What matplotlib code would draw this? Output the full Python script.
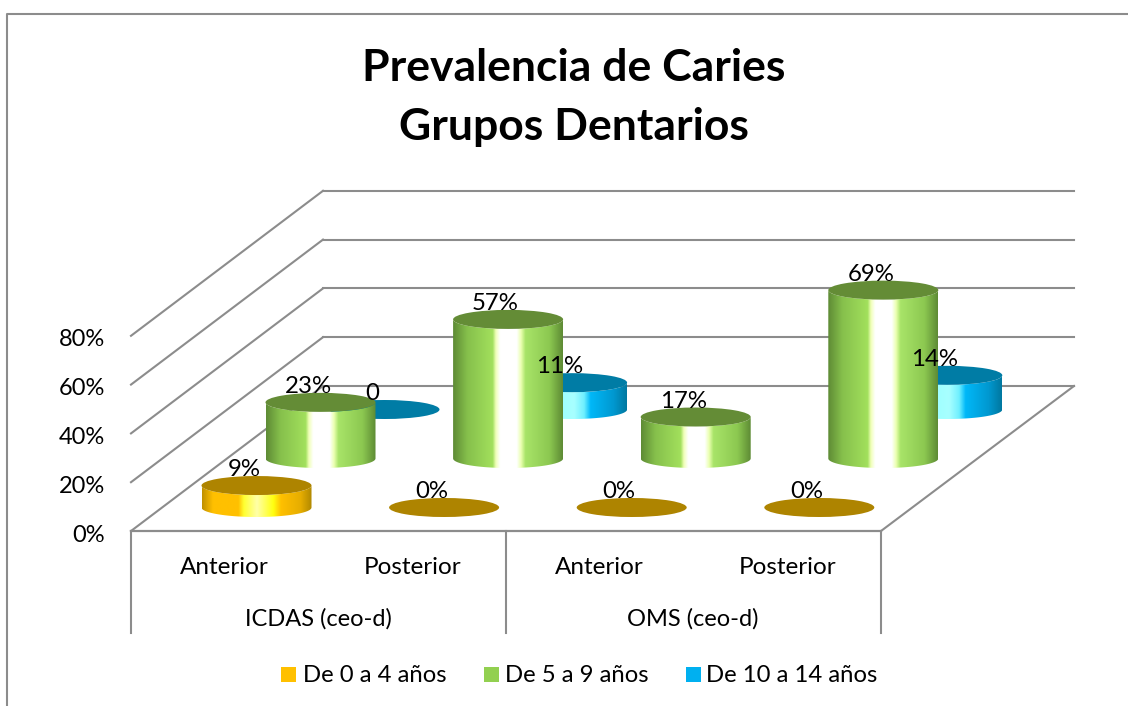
import numpy as np
import matplotlib
matplotlib.use("Agg")
import matplotlib.pyplot as plt
from matplotlib.colors import LinearSegmentedColormap
from matplotlib.patches import Ellipse, PathPatch, Rectangle
from matplotlib.path import Path

plt.rcParams['font.family'] = ['Lato', 'DejaVu Sans']

# Data
title = "Prevalencia de Caries\nGrupos Dentarios"
groups = ["ICDAS (ceo-d)", "OMS (ceo-d)"]
categories = ["Anterior", "Posterior", "Anterior", "Posterior"]
series_names = ["De 0 a 4 años", "De 5 a 9 años", "De 10 a 14 años"]
age_0_4 = [9, 0, 0, 0]
age_5_9 = [23, 57, 17, 69]
age_10_14 = [0, 11, None, 14]
blue_labels = ["0", "11%", None, "14%"]
y_ticks = [0, 20, 40, 60, 80]

# Layout, all in pixels of the picture
PX_PER_PCT = 2.44
FRONT_Y, BACK_Y = 531, 386
LEFT_X, RIGHT_X = 131, 881
DEPTH_X = 192
STEP = 187.6
HALF_W, HALF_H = 55, 9.5
LINE = "#8c8c8c"

green_cm = LinearSegmentedColormap.from_list("g", [
    (0, "#5e8b35"), (0.13, "#86c04c"), (0.36, "#a2e05c"), (0.39, "#f0ffb8"),
    (0.43, "#ffffff"), (0.58, "#ffffff"), (0.62, "#eaffb0"), (0.66, "#a8e468"),
    (0.88, "#8cc850"), (1, "#5e8b35")])
orange_cm = LinearSegmentedColormap.from_list("o", [
    (0, "#c09000"), (0.1, "#ffc000"), (0.33, "#ffc000"), (0.38, "#ffff30"),
    (0.5, "#ffffa8"), (0.65, "#ffff10"), (0.72, "#ffc000"), (0.9, "#e6ad00"),
    (1, "#b08800")])
blue_cm = LinearSegmentedColormap.from_list("b", [
    (0, "#0080a8"), (0.1, "#00b0f0"), (0.3, "#60e8ff"), (0.42, "#a0ffff"),
    (0.52, "#a8ffff"), (0.61, "#70f0ff"), (0.67, "#00b8f8"), (0.88, "#0098d0"),
    (1, "#0078a0")])

# (values, colormap, top colour, first x, floor y)
rows = [
    (age_10_14, blue_cm, "#007ca5", 384.5, 409.5),
    (age_5_9, green_cm, "#648c36", 320.5, 458.5),
    (age_0_4, orange_cm, "#ae8400", 256.5, 507.5),
]
gradient = np.linspace(0, 1, 256).reshape(1, -1)

fig = plt.figure(figsize=(11.28, 7.06), dpi=100)
ax = fig.add_axes([0, 0, 1, 1])
ax.set_axis_off()


def cylinder(xc, floor, value, cmap, top_color):
    top = floor - value * PX_PER_PCT
    if value > 0:
        t = np.linspace(np.pi, 0, 60)
        low = np.column_stack([xc + HALF_W * np.cos(t), floor + HALF_H * np.sin(t)])
        up = np.column_stack([xc + HALF_W * np.cos(t[::-1]), top + HALF_H * np.sin(t[::-1])])
        pts = np.vstack([low, up, low[:1]])
        im = ax.imshow(gradient, cmap=cmap, aspect="auto", zorder=3,
                       extent=[xc - HALF_W, xc + HALF_W, floor + HALF_H, top])
        im.set_clip_path(PathPatch(Path(pts), transform=ax.transData))
    ax.add_patch(Ellipse((xc, top), 2 * HALF_W, 2 * HALF_H, color=top_color, lw=0, zorder=3))
    return top


# Walls and floor
for tick in y_ticks:
    dy = tick * PX_PER_PCT
    ax.plot([LEFT_X, LEFT_X + DEPTH_X], [FRONT_Y - dy, BACK_Y - dy], color=LINE, lw=1.5, zorder=1)
    ax.plot([LEFT_X + DEPTH_X, RIGHT_X + DEPTH_X + 1], [BACK_Y - dy, BACK_Y - dy], color=LINE, lw=1.5, zorder=1)
    ax.text(105, FRONT_Y - dy + 4, f"{tick}%", ha="right", va="center", fontsize=17, color="black")
ax.plot([RIGHT_X, RIGHT_X + DEPTH_X + 1], [FRONT_Y, BACK_Y], color=LINE, lw=1.5, zorder=1)
ax.plot([LEFT_X, RIGHT_X], [FRONT_Y, FRONT_Y], color=LINE, lw=1.6, zorder=1)
for x in (LEFT_X, (LEFT_X + RIGHT_X) / 2, RIGHT_X):
    ax.plot([x, x], [FRONT_Y, 633], color=LINE, lw=1.5, zorder=1)

# Cylinders, back row first so the front rows cover them
tops = []
for values, cmap, top_color, x0, floor in rows:
    for i, v in enumerate(values):
        if v is None:
            continue
        xc = x0 + i * STEP
        top = cylinder(xc, floor, v, cmap, top_color)
        if cmap is blue_cm:
            label = blue_labels[i]
        else:
            label = f"{v}%"
        tops.append((xc - 12.5, top - 16, label))
for x, y, label in tops:
    ax.text(x, y, label, ha="center", va="center", fontsize=17.3, color="black", zorder=5)

# Axis labels under the floor
for i, cat in enumerate(categories):
    ax.text(224.5 + i * STEP, 567, cat, ha="center", va="center", fontsize=17.5)
for i, group in enumerate(groups):
    ax.text(318 + i * 375, 619, group, ha="center", va="center", fontsize=17)

# Legend
legend_x = [281, 484, 686]
legend_text_x = [303, 505, 706]
legend_colors = ["#ffc000", "#92d050", "#00b0f0"]
for x, tx, name, col in zip(legend_x, legend_text_x, series_names, legend_colors):
    ax.add_patch(Rectangle((x, 667), 15, 15, color=col, lw=0))
    ax.text(tx, 676, name, ha="left", va="center", fontsize=17.2)

# Title and outer border
ax.text(574, 97.5, title, ha="center", va="center", fontsize=32, fontweight="bold", linespacing=1.56)
ax.plot([7, 7, 1128], [706, 14, 14], color="#8c8c8c", lw=1.5)

ax.set_xlim(0, 1128)
ax.set_ylim(706, 0)
fig.savefig("out.png", dpi=100)
